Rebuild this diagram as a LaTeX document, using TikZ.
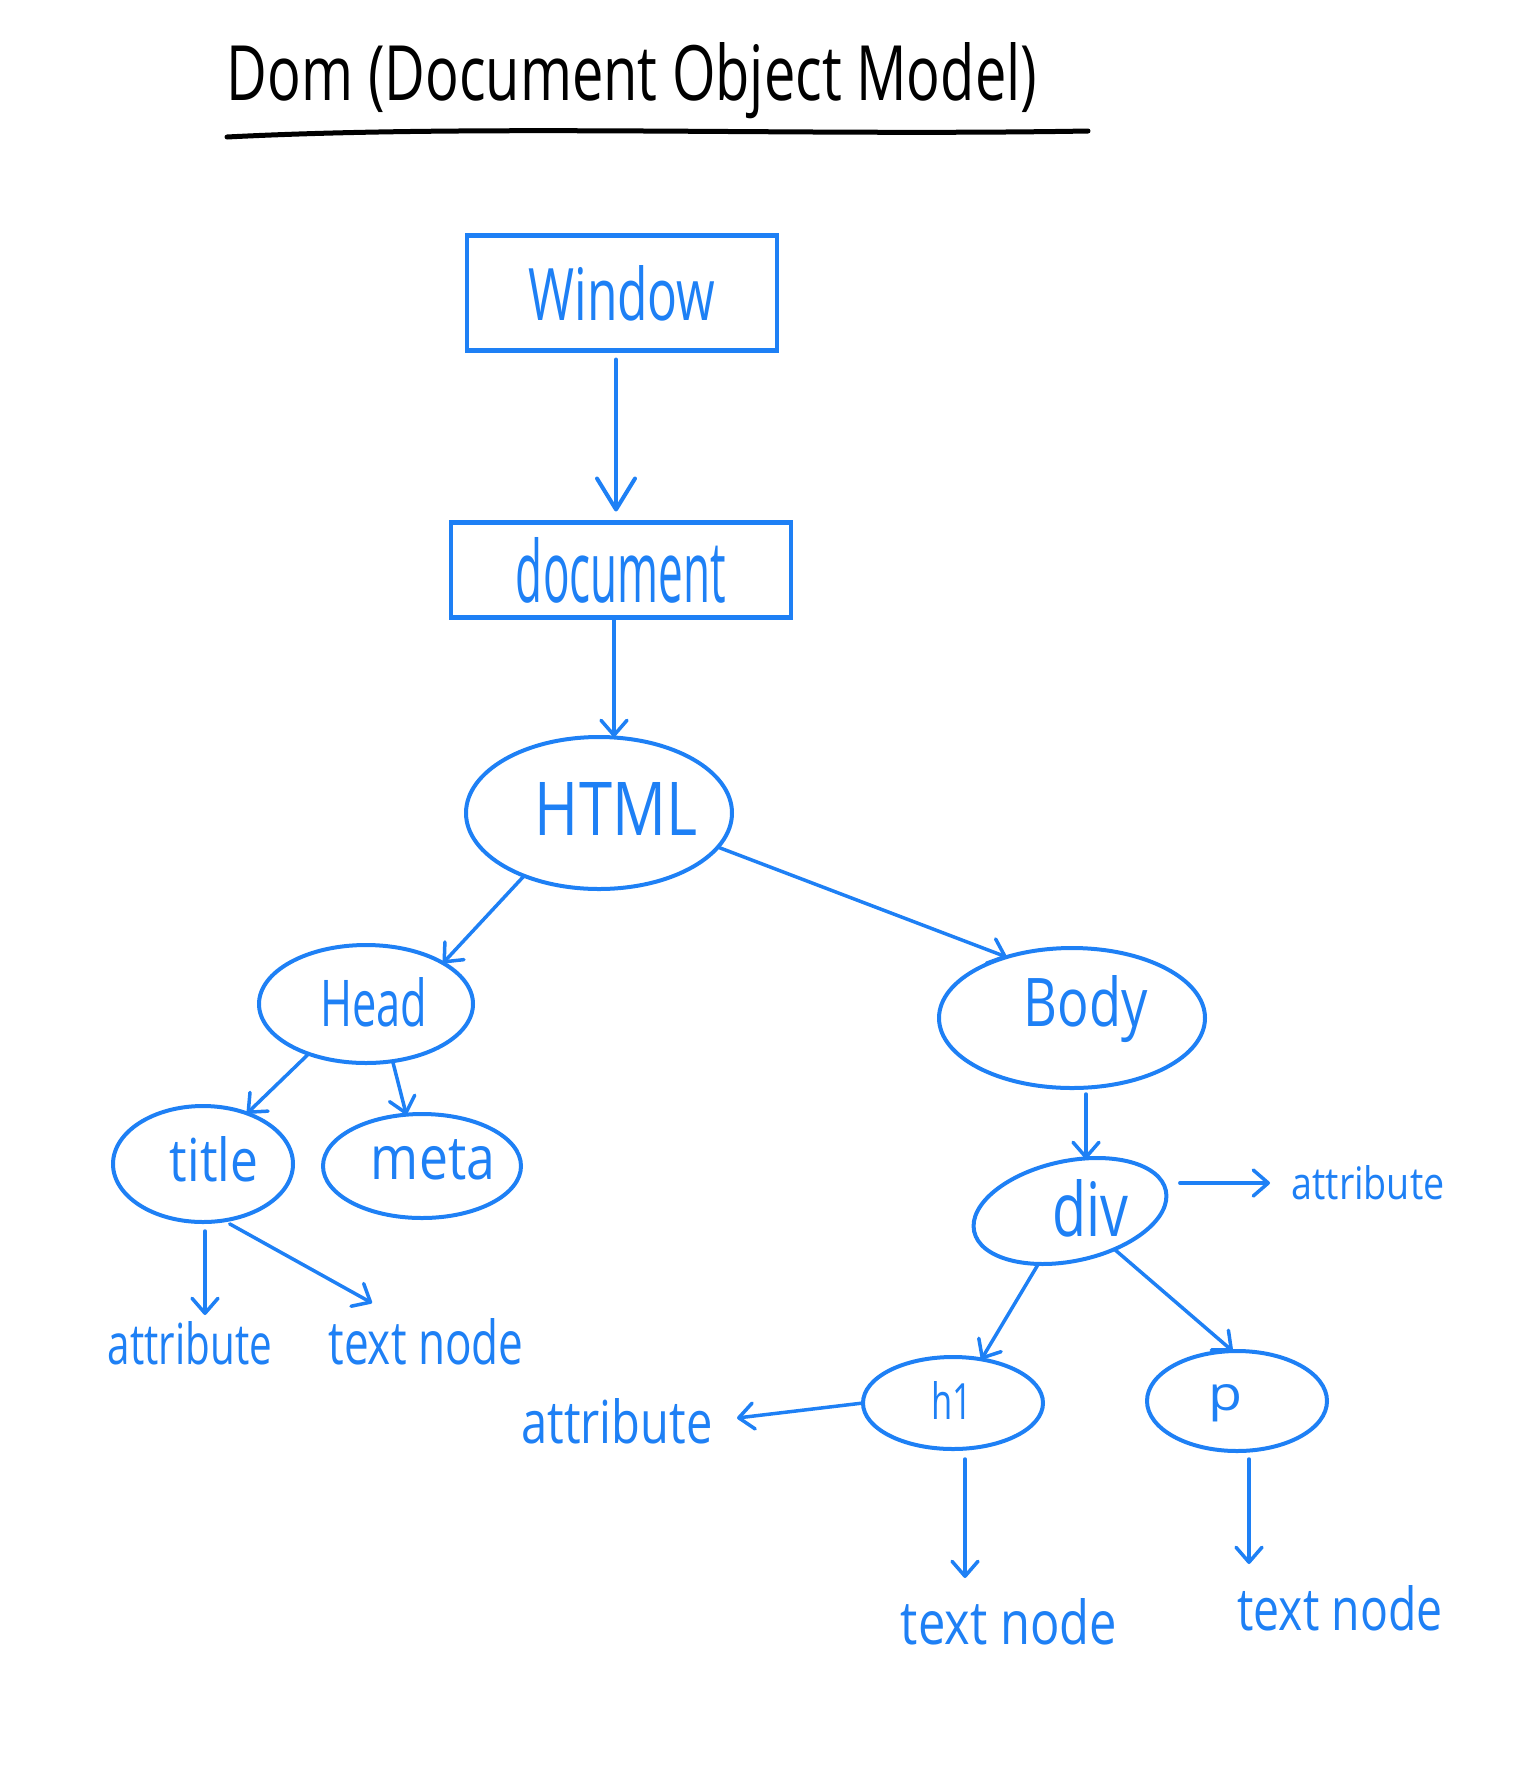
\documentclass[tikz,border=0pt]{standalone}
\usepackage{fontspec}
\setmainfont{Open Sans}
\usepackage{graphicx}
\usetikzlibrary{arrows.meta,shapes.geometric}
\definecolor{dblue}{RGB}{30,128,245}
\newcommand{\fitbox}[3]{\resizebox{#1pt}{#2pt}{#3}}
\tikzset{
  every node/.style={inner sep=0pt, outer sep=0pt},
  box/.style={draw=dblue, line width=4.5pt, rectangle, text=dblue},
  oval/.style={draw=dblue, line width=4pt, ellipse},
  lbl/.style={text=dblue, anchor=base},
  arr/.style={draw=dblue, line width=3.5pt, line cap=round,
    -{Straight Barb[length=15pt,width=26pt,line width=3.5pt,round]}},
  bigarr/.style={draw=dblue, line width=4pt, line cap=round,
    -{Straight Barb[length=31pt,width=38pt,line width=4pt,round]}},
}
\begin{document}
\begin{tikzpicture}[x=1pt,y=-1pt]
\useasboundingbox (0,0) rectangle (1536,1778);
% title
\node[anchor=base, text=black] (ttl) at (632,100) {\fitbox{810}{58}{Dom (Document Object Model)}};
\coordinate (ul1) at (227,137);
\coordinate (ul2) at (1088,131);
\draw[black, line width=5pt, line cap=round] (ul1)
  .. controls (480,124) and (800,136) .. (ul2);
% boxes
\node[box, minimum width=310pt, minimum height=115pt] (win) at (622,293) {\fitbox{187}{55}{Window}};
\node[box, minimum width=340pt, minimum height=95pt] (doc) at (621,570) {\fitbox{210}{65}{document}};
% ellipses
\node[oval, minimum width=266pt, minimum height=152pt] (html) at (599,813) {};
\node[oval, minimum width=214pt, minimum height=118pt] (head) at (366,1004) {};
\node[oval, minimum width=266pt, minimum height=140pt] (body) at (1072,1018) {};
\node[oval, minimum width=180pt, minimum height=116pt] (title) at (203,1164) {};
\node[oval, minimum width=198pt, minimum height=104pt] (meta) at (422,1166) {};
\node[oval, minimum width=196pt, minimum height=100pt, rotate=12] (div) at (1070,1211) {};
\node[oval, minimum width=180pt, minimum height=92pt] (h1) at (953,1403) {};
\node[oval, minimum width=180pt, minimum height=100pt] (p) at (1237,1401) {};
% ellipse texts
\node[lbl] (htmlt) at (616,835) {\fitbox{162}{53}{HTML}};
\node[lbl] (headt) at (374,1026) {\fitbox{107}{49}{Head}};
\node[lbl] (bodyt) at (1086,1026) {\fitbox{124}{51}{Body}};
\node[lbl] (titlet) at (214,1181) {\fitbox{88}{45}{title}};
\node[lbl] (metat) at (433,1179) {\fitbox{124}{40}{meta}};
\node[lbl] (divt) at (1090,1236) {\fitbox{76}{57}{div}};
\node[lbl] (h1t) at (952,1419) {\fitbox{41}{38}{h1}};
\node[lbl] (pt) at (1225,1410) {\fitbox{34}{26}{p}};
% leaf labels
\node[lbl] (tattr) at (190,1364) {\fitbox{164}{43}{attribute}};
\node[lbl] (ttext) at (426,1364) {\fitbox{195}{46}{text node}};
\node[lbl] (dattr) at (1368,1199) {\fitbox{153}{34}{attribute}};
\node[lbl] (hattr) at (617,1443) {\fitbox{191}{45}{attribute}};
\node[lbl] (htext) at (1009,1644) {\fitbox{216}{46}{text node}};
\node[lbl] (ptext) at (1340,1630) {\fitbox{205}{45}{text node}};
% free ends
\coordinate (c7) at (205,1315);
\coordinate (c8) at (372,1303);
\coordinate (c9) at (1086,1159);
\coordinate (c10) at (1270,1183);
\coordinate (c13) at (737,1418);
\coordinate (c14) at (965,1578);
\coordinate (c15) at (1249,1564);
% connectors
\draw[bigarr, shorten <=9pt, shorten >=11pt] ([xshift=-6pt]win.south) -- ([xshift=-6pt]win.south |- doc.north);
\draw[arr, shorten <=3pt] ([xshift=-7pt]doc.south) -- ([xshift=-7pt]doc.south |- html.north);
\draw[arr] (html.220) -- (head.28);
\draw[arr] (html.-16) -- (body.137);
\draw[arr] (head.221) -- (title.49);
\draw[arr] (head.-65) -- (meta.107);
\draw[arr, shorten <=9pt] (c7 |- title.south) -- (c7);
\draw[arr, shorten <=7pt] (title.-70) -- (c8);
\draw[arr, shorten <=6pt] (c9 |- body.south) -- (c9);
\draw[arr, shorten <=14pt] (div.east |- c10) -- (c10);
\draw[arr] (div) -- (h1.57);
\draw[arr] (div) -- (p.95);
\draw[arr] (h1.west) -- (c13);
\draw[arr, shorten <=10pt] (c14 |- h1.south) -- (c14);
\draw[arr, shorten <=8pt] (c15 |- p.south) -- (c15);
\end{tikzpicture}
\end{document}
